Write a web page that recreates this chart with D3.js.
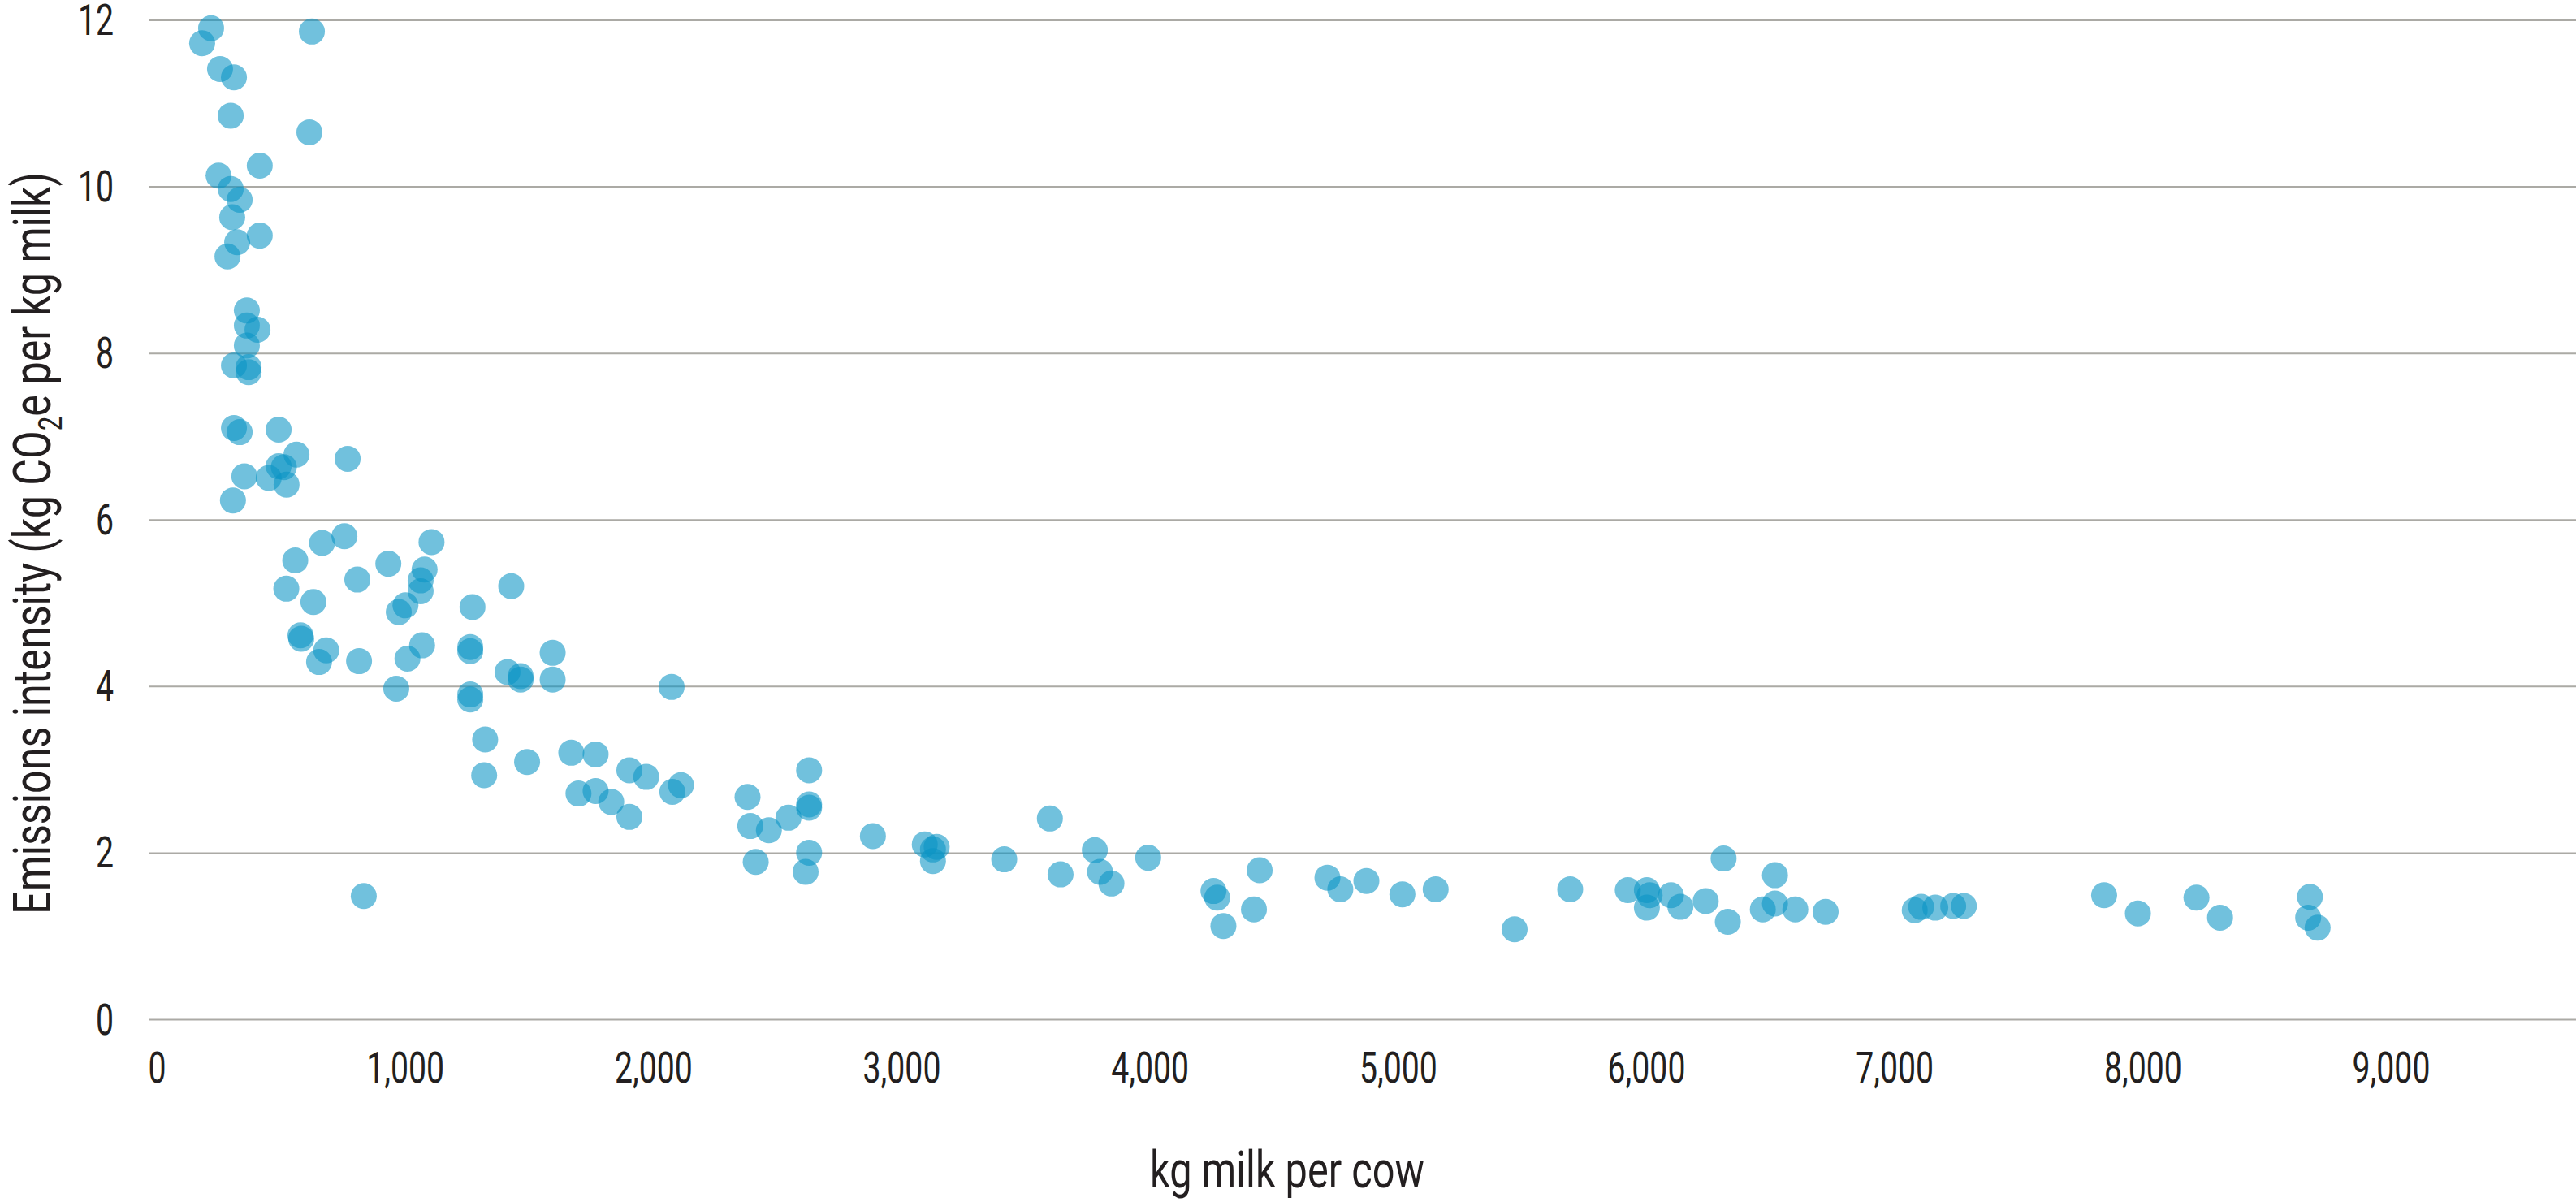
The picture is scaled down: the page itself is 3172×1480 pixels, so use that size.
<!DOCTYPE html>
<html>
<head>
<meta charset="utf-8">
<script src="https://cdn.jsdelivr.net/npm/d3@7"></script>
<style>
  html, body { margin: 0; padding: 0; background: #fff; }
  svg { display: block; font-family: Roboto, "Noto Sans", sans-serif; }
</style>
</head>
<body>
<div id="chart"></div>
<script>
const WIDTH = 3172;
const HEIGHT = 1480;

// kg milk per cow (x) and emissions intensity (y)
const milkPerCow = [
  219, 183, 255, 311, 625, 298, 615, 415, 249, 298, 334, 304, 415, 324, 285,
  363, 363, 406, 363, 311, 370, 370, 311, 334, 491, 563, 769, 353, 491, 512,
  451, 523, 307,
  558, 666, 756, 522, 631, 808, 933, 1107, 1079, 1063, 1063, 1002, 975, 579,
  582, 683, 654, 815, 1010, 1069, 965, 1272, 1428, 1263, 1263, 1413, 1466, 1466,
  1595, 1595, 1263, 1263, 2074, 1323, 1319, 1492, 1670, 1768, 1699, 1768, 1831,
  1904, 1972, 1904, 2077, 2112, 834,
  2380, 2391, 2466, 2545, 2628, 2628, 2628, 2413, 2628, 2614, 2885, 3094, 3142,
  3127, 3127, 3414, 3598, 3779, 3641, 3800, 3846, 3994, 4257, 4272, 4297, 4443,
  4420, 4716, 4768, 4873,
  5018, 5152, 5470, 5694, 5926, 6003, 6014, 6003, 6100, 6138, 6240, 6312, 6329,
  6519, 6470, 6519, 6601, 6723, 7082, 7108, 7165, 7237, 7280,
  7845, 7981, 8217, 8312, 8674, 8667, 8705,
];

const emissionsIntensity = [
  11.90, 11.72, 11.41, 11.31, 11.86, 10.85, 10.65, 10.25, 10.13, 9.97, 9.84, 9.63, 9.41, 9.33, 9.16,
  8.51, 8.33, 8.28, 8.09, 7.85, 7.83, 7.77, 7.10, 7.05, 7.08, 6.78, 6.73, 6.52, 6.64, 6.63,
  6.50, 6.42, 6.23,
  5.51, 5.72, 5.80, 5.17, 5.01, 5.28, 5.47, 5.73, 5.40, 5.27, 5.14, 4.97, 4.89, 4.61,
  4.57, 4.43, 4.29, 4.30, 4.33, 4.49, 3.97, 4.95, 5.20, 4.47, 4.42, 4.17, 4.12, 4.08,
  4.40, 4.08, 3.90, 3.84, 3.99, 3.36, 2.93, 3.09, 3.20, 3.18, 2.71, 2.74, 2.61,
  2.99, 2.91, 2.43, 2.73, 2.81, 1.48,
  2.67, 2.32, 2.27, 2.42, 2.99, 2.58, 2.54, 1.89, 2.00, 1.77, 2.20, 2.10, 2.07,
  2.04, 1.90, 1.92, 2.41, 2.03, 1.74, 1.77, 1.63, 1.94, 1.54, 1.46, 1.12, 1.79,
  1.32, 1.70, 1.56, 1.66,
  1.50, 1.56, 1.08, 1.56, 1.55, 1.55, 1.49, 1.34, 1.49, 1.35, 1.42, 1.93, 1.17,
  1.73, 1.32, 1.39, 1.32, 1.29, 1.31, 1.35, 1.34, 1.36, 1.36,
  1.49, 1.27, 1.46, 1.22, 1.47, 1.22, 1.10,
];

const xTicks = [0, 1000, 2000, 3000, 4000, 5000, 6000, 7000, 8000, 9000];
const yTicks = [0, 2, 4, 6, 8, 10, 12];

const X_TITLE = "kg milk per cow";

const TEXT_COLOR = "#231f20";
const GRID_COLOR = "#abaaa5";
const DOT_COLOR = "#0a94c5";
const GRID_LEFT = 183;

const points = milkPerCow.map((m, i) => ({ milk: m, intensity: emissionsIntensity[i] }));

const x = d3.scaleLinear().domain([0, 9000]).range([193, 2944]);
const y = d3.scaleLinear().domain([0, 12]).range([1255, 24.5]);

const svg = d3
  .select("#chart")
  .append("svg")
  .attr("width", WIDTH)
  .attr("height", HEIGHT)
  .attr("viewBox", `0 0 ${WIDTH} ${HEIGHT}`);

// squeeze a text horizontally to a target width (the source face is condensed)
function fitWidth(sel, target, base) {
  const len = sel.node().getComputedTextLength();
  sel.attr("transform", `${base} scale(${target / len},1)`);
}

// —— Y axis with gridlines ——
const gY = svg
  .append("g")
  .attr("class", "axis axis--y")
  .attr("transform", `translate(${GRID_LEFT},0)`)
  .call(d3.axisLeft(y).tickValues(yTicks).tickSize(-(WIDTH - GRID_LEFT)).tickFormat(d3.format("d")));

gY.select(".domain").remove();
gY.selectAll(".tick line").attr("stroke", GRID_COLOR).attr("stroke-width", 2);
gY.selectAll(".tick text")
  .attr("x", 0)
  .attr("dy", 0)
  .attr("fill", TEXT_COLOR)
  .attr("font-size", 53)
  .attr("font-family", "Roboto")
  .attr("text-anchor", "end")
  .attr("transform", "translate(-43,18) scale(0.74,1)");

// —— X axis labels ——
const gX = svg
  .append("g")
  .attr("class", "axis axis--x")
  .attr("transform", `translate(0,${y(0)})`)
  .call(d3.axisBottom(x).tickValues(xTicks).tickSize(0).tickFormat(d3.format(",")));

gX.select(".domain").remove();
gX.selectAll(".tick text")
  .attr("y", 0)
  .attr("dy", 0)
  .attr("fill", TEXT_COLOR)
  .attr("font-size", 53)
  .attr("font-family", "Roboto")
  .attr("transform", "translate(0,78) scale(0.74,1)");

// —— Dots ——
svg
  .append("g")
  .attr("class", "dots")
  .selectAll("circle")
  .data(points)
  .join("circle")
  .attr("cx", (d) => x(d.milk))
  .attr("cy", (d) => y(d.intensity))
  .attr("r", 16)
  .attr("fill", DOT_COLOR)
  .attr("fill-opacity", 0.58);

// —— Axis titles ——
const xTitle = svg
  .append("text")
  .attr("class", "axis-label")
  .attr("text-anchor", "middle")
  .attr("font-size", 63)
  .attr("fill", TEXT_COLOR)
  .text(X_TITLE);
fitWidth(xTitle, 338, "translate(1585,1462)");

const yTitle = svg
  .append("text")
  .attr("class", "axis-label")
  .attr("text-anchor", "middle")
  .attr("font-size", 64)
  .attr("fill", TEXT_COLOR);
yTitle.append("tspan").text("Emissions intensity (kg CO");
yTitle.append("tspan").attr("font-size", 40).attr("dy", 14).text("2");
yTitle.append("tspan").attr("dy", -14).text("e per kg milk)");
fitWidth(yTitle, 914, "translate(62,669) rotate(-90)");
</script>
</body>
</html>
